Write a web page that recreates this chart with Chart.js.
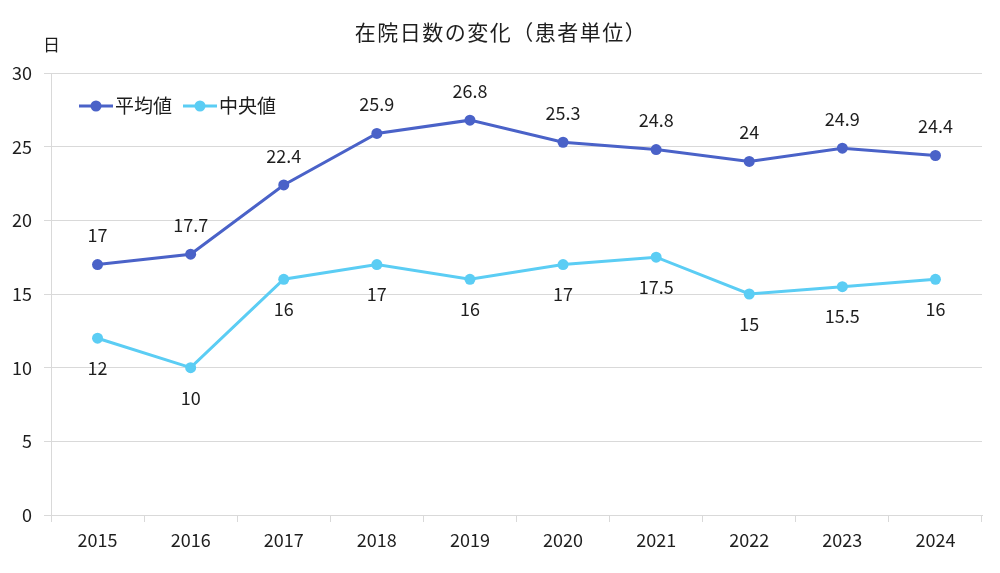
<!DOCTYPE html>
<html>
<head>
<meta charset="utf-8">
<script src="https://cdn.jsdelivr.net/npm/chart.js@4"></script>
<style>
  html, body { margin: 0; padding: 0; background: #fff; }
  #wrap { width: 1000px; height: 573px; }
</style>
</head>
<body>
<div id="wrap"><canvas id="stayChart"></canvas></div>
<script>
var years = ['2015', '2016', '2017', '2018', '2019', '2020', '2021', '2022', '2023', '2024'];
var meanDays = [17, 17.7, 22.4, 25.9, 26.8, 25.3, 24.8, 24, 24.9, 24.4];
var medianDays = [12, 10, 16, 17, 16, 17, 17.5, 15, 15.5, 16];
var yTicks = [0, 5, 10, 15, 20, 25, 30];

var FONT = '"Noto Sans CJK JP", "Noto Sans", sans-serif';
var TEXT = '#1e1e1e';
var GRID = '#d9d9d9';
var MEAN_COLOR = '#4a62c8';
var MEDIAN_COLOR = '#5bcdf4';

// title, unit label, legend and value labels
var decorations = {
    id: 'decorations',
    afterDatasetsDraw: function (chart) {
        var ctx = chart.ctx;
        ctx.save();
        ctx.fillStyle = TEXT;
        ctx.textBaseline = 'middle';

        ctx.font = '21px ' + FONT;
        ctx.textAlign = 'center';
        ctx.letterSpacing = '1.5px';
        ctx.fillText('在院日数の変化（患者単位）', 501, 32);
        ctx.letterSpacing = '0px';

        ctx.font = '17px ' + FONT;
        ctx.textAlign = 'left';
        ctx.fillText('日', 43, 45);

        // value labels: mean above, median below
        ctx.font = '18px ' + FONT;
        ctx.textAlign = 'center';
        chart.data.datasets.forEach(function (ds, i) {
            var meta = chart.getDatasetMeta(i);
            meta.data.forEach(function (pt, j) {
                var dy = i === 0 ? -29 : 30;
                ctx.fillText(String(ds.data[j]), pt.x, pt.y + dy);
            });
        });

        // legend inside plot area
        var items = [
            { label: chart.data.datasets[0].label, color: MEAN_COLOR, x: 79 },
            { label: chart.data.datasets[1].label, color: MEDIAN_COLOR, x: 183 }
        ];
        var ly = 106;
        items.forEach(function (it) {
            ctx.strokeStyle = it.color;
            ctx.lineWidth = 3;
            ctx.beginPath();
            ctx.moveTo(it.x, ly);
            ctx.lineTo(it.x + 34, ly);
            ctx.stroke();
            ctx.fillStyle = it.color;
            ctx.beginPath();
            ctx.arc(it.x + 17, ly, 5.5, 0, Math.PI * 2);
            ctx.fill();
            ctx.fillStyle = TEXT;
            ctx.font = '19px ' + FONT;
            ctx.textAlign = 'left';
            ctx.fillText(it.label, it.x + 36, ly);
        });
        ctx.restore();
    }
};

var ctx = document.getElementById('stayChart').getContext('2d');
var stayChart = new Chart(ctx, {
    type: 'line',
    data: {
        labels: years,
        datasets: [{
            label: '平均値',
            data: meanDays,
            borderColor: MEAN_COLOR,
            backgroundColor: MEAN_COLOR,
            borderWidth: 3,
            pointRadius: 5.5,
            pointHoverRadius: 5.5,
            pointBorderWidth: 0,
            tension: 0
        }, {
            label: '中央値',
            data: medianDays,
            borderColor: MEDIAN_COLOR,
            backgroundColor: MEDIAN_COLOR,
            borderWidth: 3,
            pointRadius: 5.5,
            pointHoverRadius: 5.5,
            pointBorderWidth: 0,
            tension: 0
        }]
    },
    options: {
        responsive: true,
        maintainAspectRatio: false,
        animation: false,
        devicePixelRatio: 1,
        layout: { padding: { top: 73, right: 18, left: 0, bottom: 0 } },
        plugins: {
            legend: { display: false },
            title: { display: false },
            tooltip: { enabled: false }
        },
        scales: {
            x: {
                offset: true,
                grid: { offset: true, drawOnChartArea: false, drawTicks: true, tickLength: 7, color: GRID },
                border: { color: GRID },
                ticks: { color: TEXT, font: { family: FONT, size: 18 }, padding: 7, maxRotation: 0 },
                afterFit: function (s) { s.height = 58; }
            },
            y: {
                min: 0,
                max: 30,
                afterBuildTicks: function (s) { s.ticks = yTicks.map(function (v) { return { value: v }; }); },
                grid: { color: GRID, tickLength: 7 },
                border: { color: GRID },
                ticks: { color: TEXT, font: { family: FONT, size: 18 }, padding: 12 },
                afterFit: function (s) { s.width = 51; }
            }
        }
    },
    plugins: [decorations]
});
</script>
</body>
</html>
